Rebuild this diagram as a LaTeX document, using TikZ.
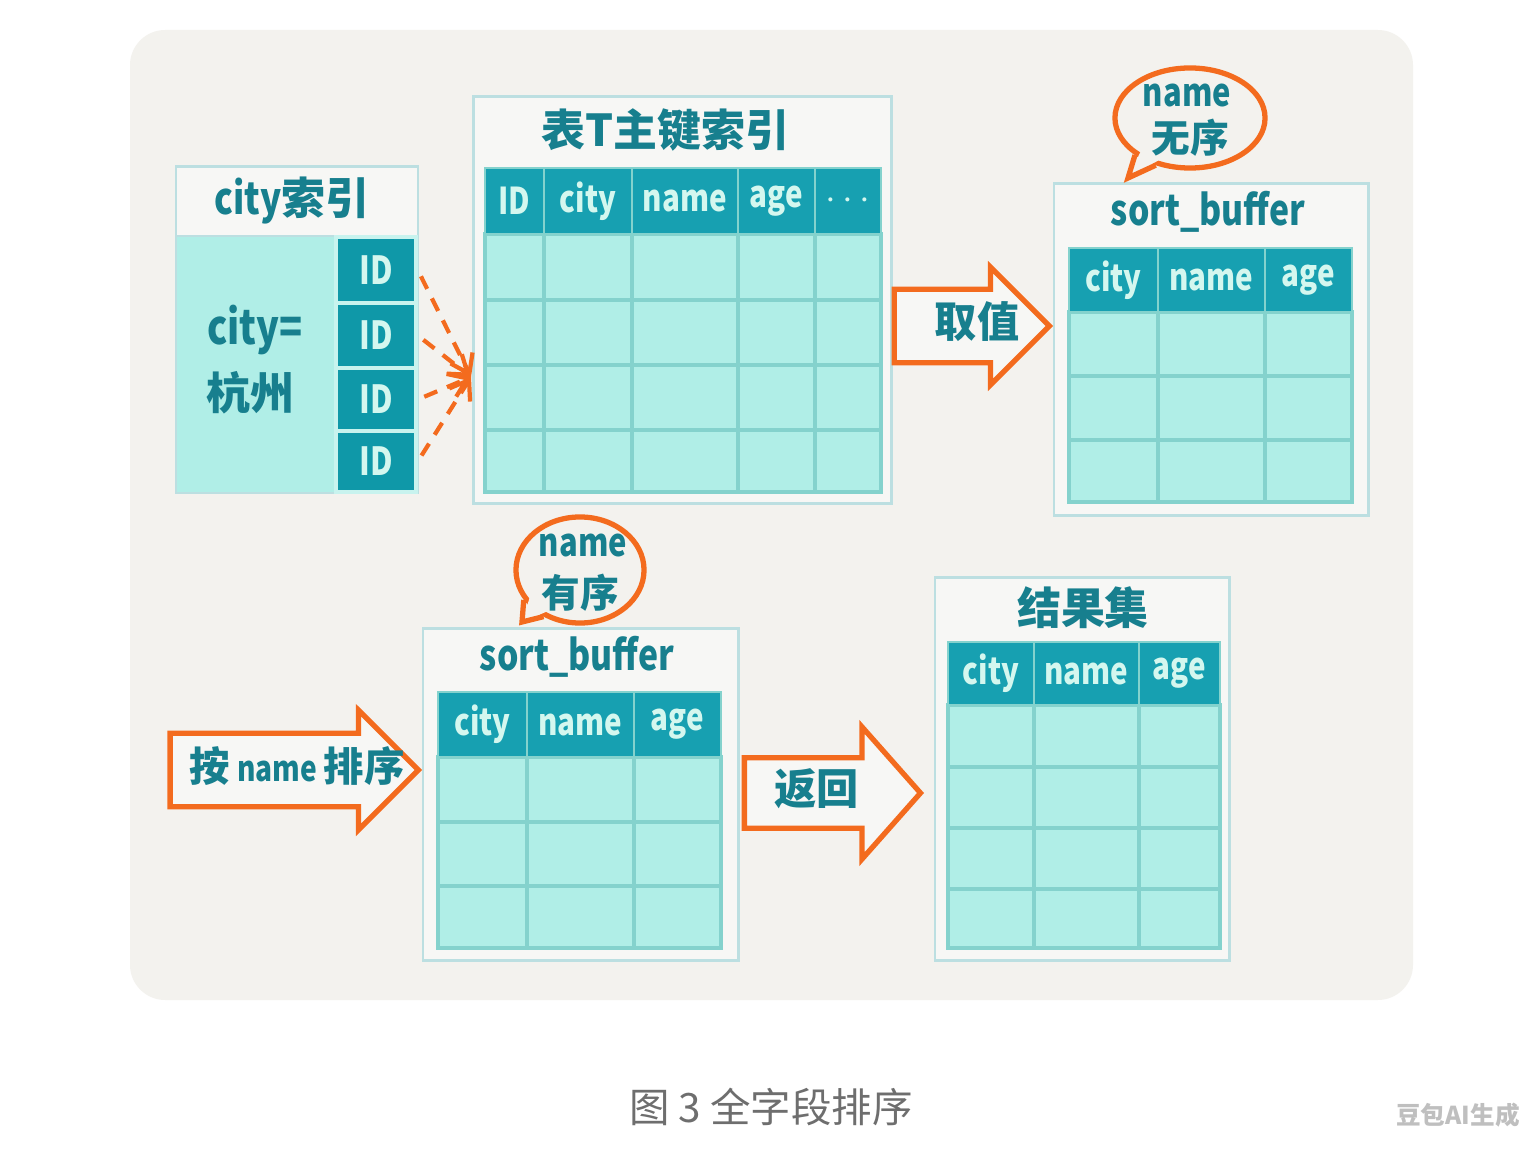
\documentclass[tikz,border=0pt]{standalone}
\usepackage{fontspec}
\setmainfont{Noto Sans CJK SC}
\newfontfamily\hand{Noto Sans CJK SC}[FakeStretch=0.8]
\usepackage{xcolor}
\usepackage{tikz}
\usetikzlibrary{shapes.geometric, shapes.arrows, arrows.meta, positioning, calc}
\definecolor{panelgray}{HTML}{F3F2EE}
\definecolor{framefill}{HTML}{F7F7F5}
\definecolor{frameline}{HTML}{BCDFE1}
\definecolor{headteal}{HTML}{17A0B1}
\definecolor{idteal}{HTML}{0F98A8}
\definecolor{headtext}{HTML}{D4F7EF}
\definecolor{cellfill}{HTML}{B0EEE7}
\definecolor{gridline}{HTML}{84D2CD}
\definecolor{inkteal}{HTML}{177F8E}
\definecolor{hintorange}{HTML}{F36B1E}
\definecolor{capgray}{HTML}{6E6E6E}

\begin{document}
\begin{tikzpicture}
  [
    x=0.01cm, y=-0.01cm,
    Frame/.style={draw=frameline, fill=framefill, line width=0.8pt, inner sep=0pt, outer sep=0pt},
    Title/.style={text=inkteal, inner sep=0pt, font=\bfseries\fontsize{12}{14}\selectfont},
    Head/.style={draw=gridline, fill=headteal, text=headtext, line width=0.6pt, inner sep=0pt, font=\hand\bfseries\fontsize{10.5}{12}\selectfont},
    IdCell/.style={draw=cellfill!70!white, fill=idteal, text=headtext, line width=1pt, inner sep=0pt, minimum width=0.8cm, font=\hand\bfseries\fontsize{11}{12}\selectfont},
    Body/.style={fill=cellfill, draw=gridline, line width=0.9pt},
    GridLine/.style={draw=gridline, line width=0.9pt},
    Hint/.style={draw=hintorange, line width=1.5pt, fill=panelgray},
    Bubble/.style={ellipse, Hint, inner sep=0pt},
    BlockArrow/.style={single arrow, draw=hintorange, line width=1.5pt, fill=framefill, single arrow tip angle=90, text=inkteal, text height=0.3cm, text depth=0.08cm, inner ysep=0.15cm, font=\bfseries\fontsize{12}{14}\selectfont},
    Link/.style={draw=hintorange, line width=1.2pt, dash pattern=on 4pt off 3pt, shorten <=2pt, -{Straight Barb[length=5pt, width=7pt]}}
  ]
  \useasboundingbox (0,0) rectangle (1536,1152);
  \fill[white] (0,0) rectangle (1536,1152);
  \fill[panelgray, rounded corners=10pt] (130,30) rectangle (1413,1000);

  % city index
  \node[Frame, minimum width=2.42cm, minimum height=3.26cm] (cityidx) at (297,330) {};
  \fill[cellfill] (177,236) rectangle (417,492);
  \draw[frameline, line width=0.8pt] (176,236) -- (418,236);
  \node[Title, font=\bfseries\fontsize{12.5}{14}\selectfont] (cityidx-title) at (292,201) {{\hand city}索引};
  \foreach \i/\ya/\yb in {1/237/303, 2/303/368, 3/368/431, 4/431/492}
    \node[IdCell, minimum height={(\yb-\ya)*0.01cm}] (id\i) at (376,{(\ya+\yb)/2}) {ID};
  \node[Title, font=\hand\bfseries\fontsize{13.5}{14}\selectfont] (cityval) at (255,330) {city=};
  \node[Title, font=\bfseries\fontsize{12.5}{14}\selectfont] (cityname) at (250,393) {杭州};

  % primary key index of T
  \node[Frame, minimum width=4.17cm, minimum height=4.06cm] (pk) at (682.5,300) {};
  \node[Title, font=\bfseries\fontsize{12.5}{14}\selectfont] (pk-title) at (665,130) {表T主键索引};
  \filldraw[Body] (485,234) rectangle (881,492);
  \foreach \x in {544,632,738,815} \draw[GridLine] (\x,234) -- (\x,492);
  \foreach \y in {300,365,430} \draw[GridLine] (485,\y) -- (881,\y);
  \foreach \i/\xa/\xb/\txt in {1/485/544/ID, 2/544/632/city, 3/632/738/name, 4/738/815/age}
    \node[Head, minimum width={(\xb-\xa)*0.01cm}, minimum height=0.66cm] (pk-h\i) at ({(\xa+\xb)/2},201) {\txt};
  \node[Head, minimum width=0.66cm, minimum height=0.66cm] (pk-h5) at (848,201) {$\cdots$};

  % sort_buffer, name unsorted
  \node[Frame, minimum width=3.14cm, minimum height=3.31cm] (sbA) at (1211,349.5) {};
  \node[Title, font=\hand\bfseries\fontsize{12}{13}\selectfont] (sbA-title) at (1208,212) {sort\_buffer};
  \filldraw[Body] (1069,312) rectangle (1352,502);
  \foreach \x in {1158,1265} \draw[GridLine] (\x,312) -- (\x,502);
  \foreach \y in {376,440} \draw[GridLine] (1069,\y) -- (1352,\y);
  \foreach \i/\xa/\xb/\txt in {1/1069/1158/city, 2/1158/1265/name, 3/1265/1352/age}
    \node[Head, minimum width={(\xb-\xa)*0.01cm}, minimum height=0.64cm] (sbA-h\i) at ({(\xa+\xb)/2},280) {\txt};

  % sort_buffer, name sorted
  \node[Frame, minimum width=3.15cm, minimum height=3.31cm] (sbB) at (580.5,794.5) {};
  \node[Title, font=\hand\bfseries\fontsize{12}{13}\selectfont] (sbB-title) at (577,657) {sort\_buffer};
  \filldraw[Body] (438,757) rectangle (721,948);
  \foreach \x in {527,634} \draw[GridLine] (\x,757) -- (\x,948);
  \foreach \y in {822,886} \draw[GridLine] (438,\y) -- (721,\y);
  \foreach \i/\xa/\xb/\txt in {1/438/527/city, 2/527/634/name, 3/634/721/age}
    \node[Head, minimum width={(\xb-\xa)*0.01cm}, minimum height=0.65cm] (sbB-h\i) at ({(\xa+\xb)/2},724.5) {\txt};

  % result set
  \node[Frame, minimum width=2.94cm, minimum height=3.82cm] (res) at (1082,769) {};
  \node[Title, font=\bfseries\fontsize{12.5}{14}\selectfont] (res-title) at (1083,608) {结果集};
  \filldraw[Body] (948,705) rectangle (1220,948);
  \foreach \x in {1034,1139} \draw[GridLine] (\x,705) -- (\x,948);
  \foreach \y in {767,828,889} \draw[GridLine] (948,\y) -- (1220,\y);
  \foreach \i/\xa/\xb/\txt in {1/948/1034/city, 2/1034/1139/name, 3/1139/1220/age}
    \node[Head, minimum width={(\xb-\xa)*0.01cm}, minimum height=0.63cm] (res-h\i) at ({(\xa+\xb)/2},673.5) {\txt};

  % Bubbles
  \node[Bubble, minimum width=1.5cm, minimum height=1.0cm] (unsorted) at (1190,118) {};
  \coordinate (unsorted-tip) at (1128,178);
  \fill[panelgray] ($(unsorted.214)!2pt!(unsorted.center)$) -- (unsorted-tip) -- ($(unsorted.234)!2pt!(unsorted.center)$) -- cycle;
  \draw[Hint, fill=none] (unsorted.214) -- (unsorted-tip) -- (unsorted.234);
  \node[Title, font=\hand\bfseries\fontsize{11}{12}\selectfont] at (1187,95) {name};
  \node[Title, font=\bfseries\fontsize{11}{12}\selectfont] at (1190,138) {无序};

  \node[Bubble, minimum width=1.28cm, minimum height=1.06cm] (sorted) at (580,570) {};
  \coordinate (sorted-tip) at (522,622);
  \fill[panelgray] ($(sorted.208)!2pt!(sorted.center)$) -- (sorted-tip) -- ($(sorted.232)!2pt!(sorted.center)$) -- cycle;
  \draw[Hint, fill=none] (sorted.208) -- (sorted-tip) -- (sorted.232);
  \node[Title, font=\hand\bfseries\fontsize{11}{12}\selectfont] at (583,545) {name};
  \node[Title, font=\bfseries\fontsize{11}{12}\selectfont] at (580,593) {有序};

  % Block arrows
  \node[BlockArrow, anchor=tip, minimum height=1.55cm, single arrow head extend=0.22cm, inner xsep=0.3cm] (fetch) at (1053,326) {\makebox[0.37cm][l]{取值}};
  \node[BlockArrow, anchor=tip, minimum height=2.48cm, single arrow head extend=0.23cm, inner xsep=0.1cm, font=\bfseries\fontsize{11.5}{14}\selectfont] (byname) at (422,770) {\makebox[1.72cm][l]{按\,{\hand\fontsize{10}{12}\selectfont name}\,排序}};
  \node[BlockArrow, anchor=tip, minimum height=1.76cm, single arrow head extend=0.31cm, single arrow tip angle=97, inner ysep=0.135cm] (back) at (924,793) {返回};

  % Lines
  \coordinate (pk-in) at (471,377);
  \foreach \i in {1,...,4}
    \draw[Link] (id\i.east) -- (pk-in);

  % Caption
  \node[text=capgray, font=\fontsize{11.5}{14}\selectfont] (caption) at (771,1107) {图\ 3\ 全字段排序};
  \node[text=black!25, font=\bfseries\fontsize{7}{8}\selectfont] (mark) at (1458,1115) {豆包AI生成};
\end{tikzpicture}
\end{document}
